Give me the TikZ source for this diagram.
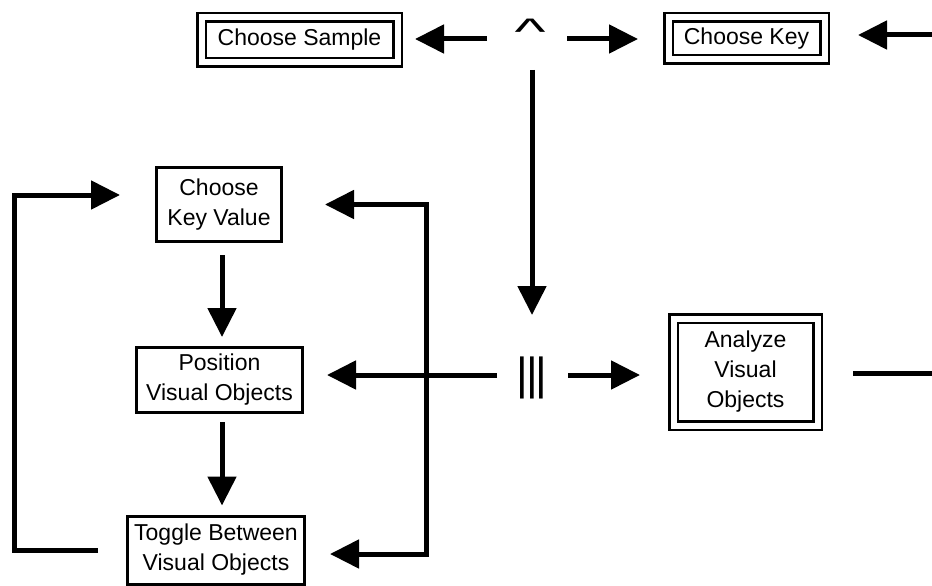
\documentclass[tikz,border=0pt]{standalone}
\usepackage{fontspec}
\setmainfont{Liberation Sans}
\usetikzlibrary{arrows.meta}

\tikzset{
  label font/.style={font=\fontsize{23}{30}\selectfont, align=center},
  singlebox/.style={label font, draw, line width=3pt, inner sep=0pt, outer sep=0pt},
  doublebox/.style={label font, draw=black, double=white, double distance=6pt,
                    line width=2.5pt, inner sep=0pt, outer sep=0pt},
  glyph/.style={inner sep=0pt, outer sep=0pt},
  flow/.style={line width=5pt},
  arr/.style={flow, -{Triangle[length=29pt, width=28pt]}},
  arrboth/.style={flow, {Triangle[length=29pt, width=28pt]}-{Triangle[length=29pt, width=28pt]}},
}

\begin{document}
\begin{tikzpicture}[x=1pt, y=-1pt]
\useasboundingbox (0,0) rectangle (932,586);

% process boxes
\node[doublebox, minimum width=196pt, minimum height=45pt] (sample) at (299.5,40) {Choose Sample};
\node[doublebox, minimum width=156pt, minimum height=42pt] (key) at (746.5,38.5) {Choose Key};
\node[doublebox, minimum width=144pt, minimum height=107pt] (analyze) at (745.5,372) {Analyze\\Visual\\Objects};
\node[singlebox, minimum width=125pt, minimum height=74pt] (ckv) at (219,204.5) {Choose\\Key Value};
\node[singlebox, minimum width=166pt, minimum height=65pt] (pos) at (219.5,380) {Position\\Visual Objects};
\node[singlebox, minimum width=177pt, minimum height=68pt] (tog) at (216,550) {Toggle Between\\Visual Objects};

% junction symbols: AND (caret) and parallel (bars)
\coordinate (andhub) at (532,39);
\coordinate (parhub) at (532,375);
\node[glyph, anchor=north, font=\fontsize{66}{66}\selectfont] (andsym) at (530,19) {\scalebox{1}[0.56]{\textasciicircum}};
\node[glyph, font=\fontsize{45}{45}\selectfont] (parsym) at (532,378) {|\kern-2pt|\kern-2pt|};

% free ends and rails
\coordinate (edgein) at (932,35);
\coordinate (edgeout) at (932,373);
\coordinate (leftrail) at (14,0);
\coordinate (rightrail) at (426,0);
\coordinate (ckvtop) at ([yshift=9.5pt]ckv.west);
\coordinate (toglow) at ([yshift=-4pt]tog.east);

% top row
\draw[arr, shorten >=17.5pt] ([xshift=-45pt]andhub) -- (sample.east |- andhub);
\draw[arr, shorten >=30.5pt] ([xshift=35pt]andhub) -- (key.west |- andhub);
\draw[arr, shorten >=33.5pt] (edgein) -- (key.east |- edgein);

% AND to parallel
\draw[arr] ([yshift=-31pt]andhub) -- ([yshift=60pt]parhub);

% parallel branches
\draw[arr, shorten >=24.5pt] ([xshift=-35pt]parhub) -- (pos.east |- parhub);
\draw[arr, shorten >=33.5pt] ([xshift=36pt]parhub) -- (analyze.west |- parhub);
\draw[flow] ([xshift=35.5pt]analyze.east |- edgeout) -- (edgeout);

% left column chain
\draw[arr, shorten <=13.5pt, shorten >=10.5pt] ([xshift=3pt]ckv.south) -- ([xshift=3pt]ckv.south |- pos.north);
\draw[arr, shorten <=9.5pt, shorten >=10.5pt] ([xshift=2.5pt]pos.south) -- ([xshift=2.5pt]pos.south |- tog.north);

% loops
\draw[arr, shorten >=36.5pt] ([xshift=-29.5pt]tog.west) -- (leftrail |- tog.west) -- (leftrail |- ckvtop) -- (ckvtop);
\draw[arrboth, shorten <=25.5pt, shorten >=43.5pt] (toglow) -- (rightrail |- toglow) -- (rightrail |- ckv.east) -- (ckv.east);
\end{tikzpicture}
\end{document}
